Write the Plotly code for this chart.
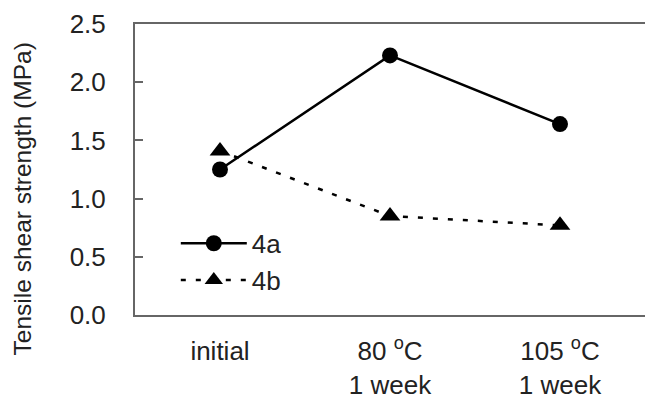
import plotly.graph_objects as go

categories = ["initial", "80 <sup>o</sup>C<br>1 week", "105 <sup>o</sup>C<br>1 week"]
x_pos = [0, 1, 2]
s4a = [1.25, 2.23, 1.64]
s4b = [1.41, 0.85, 0.77]
y_ticks = [0.0, 0.5, 1.0, 1.5, 2.0, 2.5]

FONT = "Liberation Sans, Arial, sans-serif"
TXT = "#222222"

fig = go.Figure()
fig.add_trace(go.Scatter(
    x=x_pos, y=s4a, name="4a", mode="lines+markers",
    line=dict(color="black", width=2.5),
    marker=dict(symbol="circle", size=16, color="black"),
))
fig.add_trace(go.Scatter(
    x=x_pos, y=s4b, name="4b", mode="lines+markers",
    line=dict(color="black", width=2.5, dash="5px,10px"),
    marker=dict(symbol="triangle-up", size=18, color="black"),
))

fig.update_layout(
    width=645, height=400,
    margin=dict(l=135, r=0, t=24, b=85, autoexpand=False),
    paper_bgcolor="white", plot_bgcolor="white",
    font=dict(family=FONT, size=26, color=TXT),
    showlegend=True,
    legend=dict(x=0.08, y=0.327, xanchor="left", yanchor="top",
                bgcolor="rgba(0,0,0,0)", font=dict(size=26, color=TXT),
                tracegroupgap=0, itemwidth=66),
)
fig.update_xaxes(
    range=[-0.5, 2.5], tickvals=x_pos, ticktext=categories,
    showline=True, mirror=True, linecolor="#666666", linewidth=2,
    ticks="", showgrid=False, zeroline=False, ticklabelstandoff=12,
    tickfont=dict(size=26, color=TXT), automargin=False,
)
fig.update_yaxes(
    range=[0, 2.5], tickvals=y_ticks, tickformat=".1f",
    showline=True, mirror=True, linecolor="#666666", linewidth=2,
    ticks="inside", ticklen=8, tickwidth=1.5, tickcolor="#666666",
    showgrid=False, zeroline=False, ticklabelstandoff=22,
    tickfont=dict(size=26, color=TXT), automargin=False,
)
fig.add_annotation(
    text="Tensile shear strength (MPa)", textangle=-90,
    xref="paper", yref="paper", x=-0.22, y=0.40,
    xanchor="center", yanchor="middle", showarrow=False,
    font=dict(size=24.5, color=TXT, family=FONT),
)

fig.write_html("out.html", config={"displayModeBar": False},
               post_script="document.body.style.margin='0';")
